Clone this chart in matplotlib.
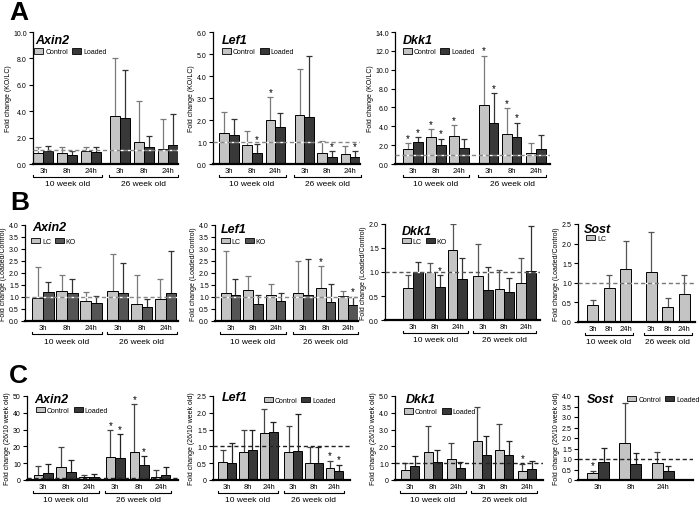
import matplotlib
matplotlib.use('Agg')
import numpy as np
import matplotlib.pyplot as plt
import matplotlib.transforms as mtransforms
from matplotlib.patches import Patch

plt.rcParams['font.family'] = ['Liberation Sans', 'DejaVu Sans']

W, H = 700, 506

times = ['3h', '8h', '24h']
ages = ['10 week old', '26 week old']

# --- A: fold change KO/LC (mean, sd, significance) ---
a_axin2_ctrl = [0.85, 0.8, 0.95, 3.65, 1.7, 1.15]
a_axin2_ctrl_sd = [0.45, 0.5, 0.35, 4.35, 3.05, 2.25]
a_axin2_load = [1.0, 0.65, 0.9, 3.45, 1.3, 1.45]
a_axin2_load_sd = [0.4, 0.35, 0.4, 3.7, 0.85, 2.35]

a_lef1_ctrl = [1.4, 0.85, 2.0, 2.23, 0.5, 0.45]
a_lef1_ctrl_sd = [0.98, 0.65, 1.03, 2.07, 0.53, 0.38]
a_lef1_load = [1.3, 0.52, 1.7, 2.12, 0.3, 0.3]
a_lef1_load_sd = [0.75, 0.4, 0.63, 2.78, 0.3, 0.3]
a_lef1_ctrl_sig = [0, 0, 1, 0, 0, 0]
a_lef1_load_sig = [0, 1, 0, 0, 1, 1]

a_dkk1_ctrl = [1.57, 2.9, 2.93, 6.25, 3.14, 1.18]
a_dkk1_ctrl_sd = [0.63, 0.8, 1.17, 5.25, 2.76, 1.07]
a_dkk1_load = [2.3, 2.0, 1.75, 4.3, 2.85, 1.64]
a_dkk1_load_sd = [0.55, 0.7, 0.85, 3.2, 1.55, 1.43]
a_dkk1_ctrl_sig = [1, 1, 1, 1, 1, 0]
a_dkk1_load_sig = [1, 1, 0, 1, 1, 0]

# --- B: fold change Loaded/Control ---
b_axin2_lc = [0.94, 1.25, 0.85, 1.25, 0.72, 0.93]
b_axin2_lc_sd = [1.32, 0.68, 0.35, 1.54, 1.18, 0.82]
b_axin2_ko = [1.2, 1.17, 0.76, 1.17, 0.58, 1.17]
b_axin2_ko_sd = [0.44, 0.59, 0.3, 1.26, 0.34, 1.76]

b_lef1_lc = [1.18, 1.28, 1.07, 1.18, 1.36, 1.05]
b_lef1_lc_sd = [1.74, 0.6, 0.47, 1.32, 0.94, 0.2]
b_lef1_ko = [1.1, 0.72, 0.85, 1.1, 0.81, 0.68]
b_lef1_ko_sd = [0.65, 0.36, 0.3, 1.48, 0.73, 0.34]
b_lef1_lc_sig = [0, 0, 0, 0, 1, 0]
b_lef1_ko_sig = [0, 0, 0, 0, 0, 1]

b_dkk1_lc = [0.66, 0.99, 1.46, 0.91, 0.64, 0.77]
b_dkk1_lc_sd = [0.28, 0.19, 0.54, 0.68, 0.4, 0.52]
b_dkk1_ko = [0.99, 0.68, 0.86, 0.63, 0.58, 1.02]
b_dkk1_ko_sd = [0.21, 0.26, 0.43, 0.47, 0.3, 0.93]
b_dkk1_ko_sig = [0, 1, 0, 0, 0, 0]

b_sost_lc = [0.44, 0.86, 1.35, 1.27, 0.37, 0.71]
b_sost_lc_sd = [0.13, 0.35, 0.71, 1.02, 0.25, 0.48]

# --- C: fold change 26/10 week old ---
c_axin2_ctrl = [3.2, 7.7, 1.8, 13.9, 16.5, 2.0]
c_axin2_ctrl_sd = [4.9, 11.9, 1.2, 16.1, 28.5, 3.8]
c_axin2_load = [4.2, 4.8, 1.6, 13.3, 9.1, 3.0]
c_axin2_load_sd = [5.1, 6.9, 2.0, 13.9, 5.2, 4.7]
c_axin2_ctrl_sig = [0, 0, 0, 1, 1, 0]
c_axin2_load_sig = [0, 0, 0, 1, 1, 0]

c_lef1_ctrl = [0.53, 0.83, 1.4, 0.84, 0.5, 0.35]
c_lef1_ctrl_sd = [0.35, 0.67, 0.7, 0.76, 0.49, 0.23]
c_lef1_load = [0.52, 0.88, 1.44, 0.86, 0.51, 0.28]
c_lef1_load_sd = [0.58, 0.62, 0.29, 1.09, 0.47, 0.18]
c_lef1_ctrl_sig = [0, 0, 0, 0, 0, 1]
c_lef1_load_sig = [0, 0, 0, 0, 0, 1]

c_dkk1_ctrl = [0.6, 1.67, 1.25, 2.35, 1.8, 0.53]
c_dkk1_ctrl_sd = [0.4, 1.53, 0.95, 2.02, 1.53, 0.45]
c_dkk1_load = [0.82, 1.06, 0.69, 1.51, 1.49, 0.63]
c_dkk1_load_sd = [0.61, 0.7, 0.39, 1.09, 0.82, 0.51]
c_dkk1_ctrl_sig = [0, 0, 0, 0, 0, 1]

c_sost_ctrl = [0.31, 1.76, 0.8]
c_sost_ctrl_sd = [0.14, 1.91, 0.55]
c_sost_load = [0.85, 0.75, 0.42]
c_sost_load_sd = [0.67, 0.52, 0.26]
c_sost_ctrl_sig = [1, 0, 0]

LIGHT = '#c4c4c4'
DARK = '#383838'
MID = '#555555'

fig = plt.figure(figsize=(7, 5.06), dpi=100)


def make_axes(x0, x1, ytop, ybot):
    return fig.add_axes([x0 / W, 1 - ybot / H, (x1 - x0) / W, (ybot - ytop) / H])


def draw_bars(ax, xs, vals, sds, color, ecolor, sig, width):
    ax.bar(xs, vals, width, color=color, edgecolor='black', linewidth=0.7, zorder=2)
    tops = [v + s for v, s in zip(vals, sds)]
    ax.vlines(xs, vals, tops, color=ecolor, lw=0.9, zorder=1)
    ax.plot(xs, tops, ls='none', marker='_', ms=4, mew=0.9, color=ecolor, zorder=1)
    if sig is None:
        return
    for x, t, s in zip(xs, tops, sig):
        if s:
            ax.annotate('*', (x, t), xytext=(0, 0), textcoords='offset points',
                        ha='center', va='bottom', fontsize=7)


def brackets(ax, pos):
    h = ax.get_position().height * H
    tr = mtransforms.blended_transform_factory(ax.transData, ax.transAxes)
    line_tr = tr + mtransforms.ScaledTranslation(0, -13 / 100, fig.dpi_scale_trans)
    text_tr = tr + mtransforms.ScaledTranslation(0, -20 / 100, fig.dpi_scale_trans)
    e = 2 / h
    for grp, label in zip([pos[:3], pos[3:]], ages):
        a, b = grp[0] - 0.45, grp[-1] + 0.45
        ax.plot([a, a, b, b], [e, 0, 0, e], color='black', lw=0.8,
                transform=line_tr, clip_on=False)
        ax.text((a + b) / 2, 0, label, transform=text_tr, ha='center', va='center', fontsize=6)


def panel(box, xlim, pos, series, yticks, ylabels, ylabel, title, title_xy,
          names, leg_xy, ref=1.0, ref_color='#888888', gap='white', width=0.42,
          pair=True, groups=True):
    ax = make_axes(*box)
    n = len(series)
    for i, (vals, sds, color, ecolor, sig) in enumerate(series):
        if pair and n == 2:
            shift = (i - 0.5) * width
        else:
            shift = 0
        draw_bars(ax, [p + shift for p in pos], vals, sds, color, ecolor, sig, width)
    ax.axhline(ref, ls=(0, (3, 2)), color=ref_color, gapcolor=gap, lw=1.0, zorder=4)
    ax.set_xlim(*xlim)
    ax.set_ylim(yticks[0], yticks[-1])
    ax.set_yticks(yticks, ylabels)
    ax.set_xticks(pos, times * (len(pos) // 3))
    ax.tick_params(axis='x', length=0, pad=2, labelsize=5.5)
    ax.tick_params(axis='y', length=3, width=0.8, pad=1.5, labelsize=5)
    for s in ['top', 'right']:
        ax.spines[s].set_visible(False)
    ax.spines['left'].set_linewidth(0.9)
    ax.spines['bottom'].set_linewidth(1.6)
    ax.set_ylabel(ylabel, fontsize=5, labelpad=1)
    ax.text(title_xy[0], title_xy[1], title, transform=ax.transAxes, fontsize=9,
            fontweight='bold', style='italic', ha='left', va='center')
    handles = [Patch(facecolor=s[2], edgecolor='black', linewidth=0.6) for s in series]
    ax.legend(handles, names, loc='center left', bbox_to_anchor=leg_xy, ncol=len(names),
              frameon=False, fontsize=5, handlelength=1.3, handleheight=0.8,
              handletextpad=0.25, columnspacing=0.6, borderpad=0, borderaxespad=0)
    if groups:
        brackets(ax, pos)
    return ax


def fmt(ticks, f):
    return [f % t for t in ticks]


# ---------- row A ----------
yl_a = 'Fold change (KO/LC)'
t = [0, 2, 4, 6, 8, 10]
panel((33, 178, 33, 165), (-0.44, 5.67), [0, 1, 2, 3.23, 4.23, 5.23],
      [(a_axin2_ctrl, a_axin2_ctrl_sd, LIGHT, '#7a7a7a', None),
       (a_axin2_load, a_axin2_load_sd, DARK, '#333333', None)],
      t, fmt(t, '%.1f'), yl_a, 'Axin2', (0.015, 0.94), ['Control', 'Loaded'], (0.01, 0.85),
      ref=1.05)
t = [0, 1, 2, 3, 4, 5, 6]
panel((213, 360, 33, 165), (-0.69, 5.66), [0, 1, 2, 3.26, 4.24, 5.24],
      [(a_lef1_ctrl, a_lef1_ctrl_sd, LIGHT, '#7a7a7a', a_lef1_ctrl_sig),
       (a_lef1_load, a_lef1_load_sd, DARK, '#333333', a_lef1_load_sig)],
      t, fmt(t, '%.1f'), yl_a, 'Lef1', (0.06, 0.94), ['Control', 'Loaded'], (0.06, 0.85))
t = [0, 2, 4, 6, 8, 10, 12, 14]
panel((395, 550, 33, 165), (-0.78, 5.96), [0, 1, 2, 3.3, 4.3, 5.35],
      [(a_dkk1_ctrl, a_dkk1_ctrl_sd, LIGHT, '#7a7a7a', a_dkk1_ctrl_sig),
       (a_dkk1_load, a_dkk1_load_sd, DARK, '#333333', a_dkk1_load_sig)],
      t, fmt(t, '%.1f'), yl_a, 'Dkk1', (0.05, 0.94), ['Control', 'Loaded'], (0.05, 0.85))

# ---------- row B ----------
yl_b = 'Fold change (Loaded/Control)'
t = [0, 0.5, 1, 1.5, 2, 2.5, 3, 3.5, 4]
panel((25, 178, 226, 322), (-0.75, 5.63), [0, 1, 2, 3.12, 4.12, 5.12],
      [(b_axin2_lc, b_axin2_lc_sd, LIGHT, '#7a7a7a', None),
       (b_axin2_ko, b_axin2_ko_sd, MID, '#333333', None)],
      t, fmt(t, '%.1f'), yl_b, 'Axin2', (0.05, 0.98), ['LC', 'KO'], (0.04, 0.83),
      width=0.44)
panel((215, 358, 226, 322), (-0.69, 5.66), [0, 1, 2, 3.22, 4.22, 5.22],
      [(b_lef1_lc, b_lef1_lc_sd, LIGHT, '#7a7a7a', b_lef1_lc_sig),
       (b_lef1_ko, b_lef1_ko_sd, MID, '#333333', b_lef1_ko_sig)],
      t, fmt(t, '%.1f'), yl_b, 'Lef1', (0.04, 0.96), ['LC', 'KO'], (0.04, 0.83),
      width=0.44)
t = [0, 0.5, 1, 1.5, 2]
panel((385, 540, 225, 321), (-1.25, 5.7), [0, 1, 2, 3.15, 4.1, 5.07],
      [(b_dkk1_lc, b_dkk1_lc_sd, LIGHT, '#555555', None),
       (b_dkk1_ko, b_dkk1_ko_sd, DARK, '#333333', b_dkk1_ko_sig)],
      t, fmt(t, '%.1f'), yl_b, 'Dkk1', (0.11, 0.93), ['LC', 'KO'], (0.11, 0.82),
      ref_color='#555555', width=0.44)
t = [0, 0.5, 1, 1.5, 2, 2.5]
panel((578, 695, 225, 323), (-0.88, 6.2), [0, 1, 2, 3.55, 4.55, 5.55],
      [(b_sost_lc, b_sost_lc_sd, LIGHT, '#555555', None)],
      t, fmt(t, '%.1f'), yl_b, 'Sost', (0.05, 0.95), ['LC'], (0.07, 0.85),
      ref_color='#777777', width=0.67)

# ---------- row C ----------
yl_c = 'Fold change (26/10 week old)'
t = [0, 10, 20, 30, 40, 50]
panel((27, 178, 397, 481), (-0.71, 5.9), [0, 1, 2, 3.15, 4.2, 5.15],
      [(c_axin2_ctrl, c_axin2_ctrl_sd, LIGHT, '#444444', c_axin2_ctrl_sig),
       (c_axin2_load, c_axin2_load_sd, DARK, '#222222', c_axin2_load_sig)],
      t, fmt(t, '%d'), yl_c, 'Axin2', (0.046, 0.96), ['Control', 'Loaded'], (0.06, 0.83),
      ref_color='#222222', gap=None)
t = [0, 0.5, 1, 1.5, 2, 2.5]
panel((213, 350, 397, 481), (-0.68, 5.9), [0, 1, 2, 3.17, 4.17, 5.15],
      [(c_lef1_ctrl, c_lef1_ctrl_sd, LIGHT, '#444444', c_lef1_ctrl_sig),
       (c_lef1_load, c_lef1_load_sd, DARK, '#222222', c_lef1_load_sig)],
      t, ['0'] + fmt(t[1:], '%.1f'), yl_c, 'Lef1', (0.066, 0.99), ['Control', 'Loaded'],
      (0.37, 0.95), ref_color='#222222', gap=None)
t = [0, 1, 2, 3, 4, 5]
panel((395, 543, 397, 481), (-0.65, 5.8), [0, 1, 2, 3.13, 4.1, 5.1],
      [(c_dkk1_ctrl, c_dkk1_ctrl_sd, LIGHT, '#444444', c_dkk1_ctrl_sig),
       (c_dkk1_load, c_dkk1_load_sd, DARK, '#222222', None)],
      t, ['0'] + fmt(t[1:], '%.1f'), yl_c, 'Dkk1', (0.075, 0.96), ['Control', 'Loaded'],
      (0.06, 0.81), ref_color='#222222', gap=None, width=0.4)
t = [0, 0.5, 1, 1.5, 2, 2.5, 3, 3.5, 4]
panel((578, 693, 397, 481), (-0.62, 2.93), [0, 1, 2],
      [(c_sost_ctrl, c_sost_ctrl_sd, LIGHT, '#444444', c_sost_ctrl_sig),
       (c_sost_load, c_sost_load_sd, DARK, '#222222', None)],
      t, ['0'] + fmt(t[1:], '%.1f'), yl_c, 'Sost', (0.08, 0.96), ['Control', 'Loaded'],
      (0.43, 0.96), ref_color='#222222', gap=None, width=0.34, groups=False)

# panel letters
for letter, x, y in [('A', 19, 13), ('B', 20, 203), ('C', 18, 376)]:
    fig.text(x / W, 1 - y / H, letter, fontsize=19, fontweight='bold', ha='center', va='center')

fig.savefig('out.png', dpi=100)
